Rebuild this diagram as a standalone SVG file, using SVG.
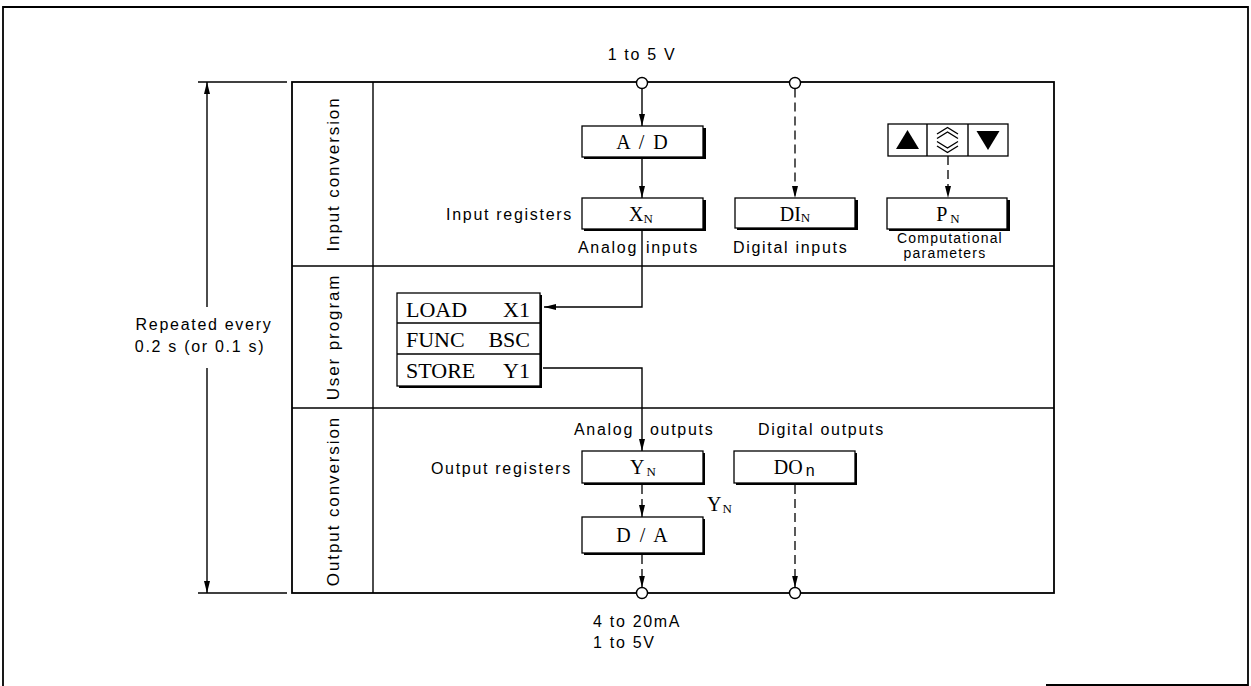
<svg xmlns="http://www.w3.org/2000/svg" width="1251" height="686" viewBox="0 0 1251 686">
<style>
.ln{fill:none;stroke:#000;stroke-width:1.4}
.frame{fill:none;stroke:#000;stroke-width:1.8}
.dash{fill:none;stroke:#000;stroke-width:1.3;stroke-dasharray:9 5}
.sans{font-family:"Liberation Sans",Arial,sans-serif;font-size:16px;letter-spacing:1.7px;fill:#000}
.band{font-family:"Liberation Sans",Arial,sans-serif;font-size:17px;letter-spacing:1.9px;fill:#000}
.small{font-family:"Liberation Sans",Arial,sans-serif;font-size:14px;letter-spacing:1.2px;fill:#000}
.serif{font-family:"Liberation Serif","Times New Roman",serif;font-size:20px;fill:#000}
.prog{font-family:"Liberation Serif","Times New Roman",serif;font-size:22px;fill:#000}
.sub{font-size:13px}
.box{fill:#fff;stroke:#000;stroke-width:1.3}
.shadow{fill:#000}
.term{fill:#fff;stroke:#000;stroke-width:1.4}
</style>
<defs>
<marker id="ah" viewBox="0 0 12 6" refX="12" refY="3" markerWidth="12" markerHeight="6" markerUnits="userSpaceOnUse" orient="auto">
<path d="M0,0 L12,3 L0,6 Z" fill="#000"/>
</marker>
</defs>
<rect width="1251" height="686" fill="#fff"/>
<path class="frame" d="M1046,685 L1248,685 L1248,7 L3,7 L3,686"/>

<g id="table">
<rect class="frame" x="292" y="82" width="762" height="511"/>
<line class="ln" x1="373" y1="82" x2="373" y2="593"/>
<line class="ln" x1="292" y1="266" x2="1054" y2="266"/>
<line class="ln" x1="292" y1="408" x2="1054" y2="408"/>
<text class="band" transform="translate(339,174) rotate(-90)" text-anchor="middle">Input conversion</text>
<text class="band" transform="translate(339,337) rotate(-90)" text-anchor="middle">User program</text>
<text class="band" transform="translate(339,501) rotate(-90)" text-anchor="middle">Output conversion</text>
</g>

<g id="cycle">
<line class="ln" x1="198" y1="82" x2="287" y2="82"/>
<line class="ln" x1="198" y1="593" x2="287" y2="593"/>
<text class="sans" x="204" y="330" text-anchor="middle" letter-spacing="2">Repeated every</text>
<text class="sans" x="200" y="352" text-anchor="middle">0.2 s (or 0.1 s)</text>
</g>

<g id="connectors">
<line class="ln" x1="207" y1="307" x2="207" y2="82" marker-end="url(#ah)"/>
<line class="ln" x1="207" y1="368" x2="207" y2="593" marker-end="url(#ah)"/>
<line class="ln" x1="642" y1="88.5" x2="642" y2="126" marker-end="url(#ah)"/>
<line class="ln" x1="642" y1="157" x2="642" y2="198" marker-end="url(#ah)"/>
<polyline class="ln" points="642,229 642,307 544,307" marker-end="url(#ah)"/>
<polyline class="ln" points="543,368 642,368 642,451" marker-end="url(#ah)"/>
<line class="dash" x1="642" y1="485" x2="642" y2="517" marker-end="url(#ah)"/>
<line class="dash" x1="642" y1="555" x2="642" y2="587.5" marker-end="url(#ah)"/>
<line class="dash" x1="795" y1="88.5" x2="795" y2="198" marker-end="url(#ah)"/>
<line class="dash" x1="948" y1="156" x2="948" y2="198" marker-end="url(#ah)"/>
<line class="dash" x1="795" y1="485" x2="795" y2="587.5" marker-end="url(#ah)"/>
</g>

<g id="terminals">
<circle class="term" cx="642" cy="83" r="5.5"/>
<circle class="term" cx="795" cy="83" r="5.5"/>
<circle class="term" cx="642" cy="593" r="5.5"/>
<circle class="term" cx="795" cy="593" r="5.5"/>
<text class="sans" x="642" y="60" text-anchor="middle">1 to 5 V</text>
<text class="sans" x="593" y="627">4 to 20mA</text>
<text class="sans" x="593" y="648">1 to 5V</text>
</g>

<g id="ad">
<rect class="shadow" x="584" y="128" width="122" height="31"/>
<rect class="box" x="582" y="126" width="121" height="31"/>
<text class="serif" x="643" y="149" text-anchor="middle" letter-spacing="2">A / D</text>
</g>

<g id="xn">
<rect class="shadow" x="584" y="200" width="122" height="31"/>
<rect class="box" x="582" y="198" width="121" height="31"/>
<text class="serif" x="641" y="221" text-anchor="middle">X<tspan class="sub" dy="2">N</tspan></text>
<text class="sans" x="573" y="220" text-anchor="end">Input registers</text>
<text class="sans" x="638" y="253" text-anchor="end" letter-spacing="2.6">Analog</text>
<text class="sans" x="646" y="253">inputs</text>
</g>

<g id="din">
<rect class="shadow" x="737" y="200" width="121" height="30"/>
<rect class="box" x="735" y="198" width="120" height="30"/>
<text class="serif" x="795" y="221" text-anchor="middle">DI<tspan class="sub" dy="1">N</tspan></text>
<text class="sans" x="733" y="253">Digital inputs</text>
</g>

<g id="keypad">
<rect class="box" x="888" y="124" width="120" height="32" stroke-width="1.8"/>
<line class="ln" x1="927" y1="124" x2="927" y2="156"/>
<line class="ln" x1="968" y1="124" x2="968" y2="156"/>
<path d="M907.5,130 L919,149 L896,149 Z" fill="#000"/>
<path d="M988,150 L999.5,131 L976.5,131 Z" fill="#000"/>
<path class="ln" d="M937,134 L947.5,127.5 L958,134 M937,138.5 L947.5,132 L958,138.5 M937,141.5 L947.5,148 L958,141.5 M937,146 L947.5,152.5 L958,146" stroke-width="1.1"/>
</g>

<g id="pn">
<rect class="shadow" x="889" y="200" width="121" height="31"/>
<rect class="box" x="887" y="198" width="120" height="31"/>
<text class="serif" x="948" y="221" text-anchor="middle">P<tspan class="sub" dx="3" dy="2">N</tspan></text>
<text class="small" x="950" y="243" text-anchor="middle">Computational</text>
<text class="small" x="945" y="258" text-anchor="middle">parameters</text>
</g>

<g id="program">
<rect class="shadow" x="399" y="295" width="143" height="93"/>
<rect class="box" x="397" y="293" width="143" height="93"/>
<line class="ln" x1="397" y1="323" x2="540" y2="323"/>
<line class="ln" x1="397" y1="354" x2="540" y2="354"/>
<text class="prog" x="406" y="317">LOAD</text>
<text class="prog" x="530" y="317" text-anchor="end">X1</text>
<text class="prog" x="406" y="347">FUNC</text>
<text class="prog" x="530" y="347" text-anchor="end">BSC</text>
<text class="prog" x="406" y="378">STORE</text>
<text class="prog" x="530" y="378" text-anchor="end">Y1</text>
</g>

<g id="yn">
<rect class="shadow" x="584" y="453" width="121" height="32"/>
<rect class="box" x="582" y="451" width="121" height="32"/>
<text class="serif" x="643" y="474" text-anchor="middle">Y<tspan class="sub" dx="2" dy="2">N</tspan></text>
<text class="sans" x="572" y="474" text-anchor="end">Output registers</text>
<text class="sans" x="634" y="435" text-anchor="end" letter-spacing="2.4">Analog</text>
<text class="sans" x="650" y="435">outputs</text>
<text class="serif" x="707" y="511">Y<tspan class="sub" dx="1" dy="2">N</tspan></text>
</g>

<g id="don">
<rect class="shadow" x="736" y="453" width="121" height="32"/>
<rect class="box" x="734" y="451" width="121" height="32"/>
<text class="serif" x="795" y="474" text-anchor="middle">DO<tspan class="sans" font-size="13" dx="3" dy="2" letter-spacing="0">n</tspan></text>
<text class="sans" x="758" y="435">Digital outputs</text>
</g>

<g id="da">
<rect class="shadow" x="584" y="519" width="121" height="36"/>
<rect class="box" x="582" y="517" width="121" height="36"/>
<text class="serif" x="643" y="542" text-anchor="middle" letter-spacing="2">D / A</text>
</g>
</svg>
